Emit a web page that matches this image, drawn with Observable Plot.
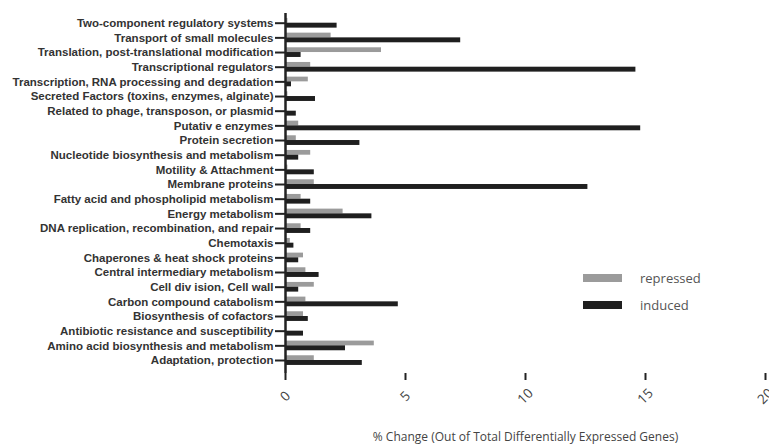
<!DOCTYPE html>
<html><head><meta charset="utf-8">
<script src="https://cdn.jsdelivr.net/npm/d3@7"></script>
<script src="https://cdn.jsdelivr.net/npm/@observablehq/plot@0.6"></script>
<style>
body{margin:0;background:#fff;}
#wrap{position:relative;width:769px;height:444px;}
.lg{position:absolute;font-family:"Open Sans",sans-serif;font-size:13px;color:#555;line-height:16px;}
.sw{position:absolute;width:39px;height:8px;}
</style></head><body><div id="wrap"></div>
<script>
const categories = [
  "Two-component regulatory systems",
  "Transport of small molecules",
  "Translation, post-translational modification",
  "Transcriptional regulators",
  "Transcription, RNA processing and degradation",
  "Secreted Factors (toxins, enzymes, alginate)",
  "Related to phage, transposon, or plasmid",
  "Putativ e enzymes",
  "Protein secretion",
  "Nucleotide biosynthesis and metabolism",
  "Motility & Attachment",
  "Membrane proteins",
  "Fatty acid and phospholipid metabolism",
  "Energy metabolism",
  "DNA replication, recombination, and repair",
  "Chemotaxis",
  "Chaperones & heat shock proteins",
  "Central intermediary metabolism",
  "Cell div ision, Cell wall",
  "Carbon compound catabolism",
  "Biosynthesis of cofactors",
  "Antibiotic resistance and susceptibility",
  "Amino acid biosynthesis and metabolism",
  "Adaptation, protection"
];
const repressed = [0.1,1.9,4.0,1.05,0.95,0.1,0,0.55,0.45,1.05,0.1,1.2,0.65,2.4,0.65,0.2,0.75,0.85,1.2,0.85,0.75,0,3.7,1.2];
const induced   = [2.15,7.3,0.65,14.6,0.25,1.25,0.45,14.8,3.1,0.55,1.2,12.6,1.05,3.6,1.05,0.35,0.55,1.4,0.55,4.7,0.95,0.75,2.5,3.2];
const xTicks = [0,5,10,15,20];
const seriesNames = ["repressed","induced"];
const seriesColors = ["#9b9b9b","#1f1f1f"];

const rows = categories.map((c,i)=>({category:c, repressed:repressed[i], induced:induced[i]}));

const first = 22.7, last = 360;
const step = (last-first)/(categories.length-1);
const half = step/2;

const chart = Plot.plot({
  width: 769, height: 444,
  marginLeft: 285, marginRight: 4, marginTop: 13, marginBottom: 71,
  style: {background:"#fff", overflow:"visible"},
  x: {domain:[0,20]},
  y: {domain: categories, range:[first-half, last+half], padding:0, round:false},
  marks: [
    Plot.barX(rows, {y:"category", x:"repressed", fill: seriesColors[0], insetTop: 2.6, insetBottom: half}),
    Plot.barX(rows, {y:"category", x:"induced", fill: seriesColors[1], insetTop: half, insetBottom: 2.4}),
    Plot.axisY({tickSize:10, tickPadding:2, strokeWidth:2, stroke:"#222", fill:"#333",
      fontFamily:"Liberation Sans, Arial, sans-serif", fontWeight:"bold", fontSize:11.5, label:null}),
    Plot.ruleX([0], {stroke:"#222", strokeWidth:2.5}),
    Plot.axisX({ticks:xTicks, tickSize:7, strokeWidth:2, stroke:"#222", line:true,
      tickFormat: () => "",
      fontFamily:"Open Sans, sans-serif", fontSize:12, fill:"#444",
      label:"% Change (Out of Total Differentially Expressed Genes)", labelAnchor:"center", labelArrow:"none", labelOffset:67}),
    Plot.text(xTicks, {x: d => d, frameAnchor:"bottom", rotate:-45, dy:23,
      fontFamily:"Open Sans, sans-serif", fontSize:13.5, fill:"#444", textAnchor:"middle", lineAnchor:"middle"})
  ]
});
const wrap = document.getElementById("wrap");
wrap.appendChild(chart);
// legend overlay
const lg = [[274,seriesNames[0],seriesColors[0]],[301,seriesNames[1],seriesColors[1]]];
for (const [top,name,col] of lg) {
  const s = document.createElement("div"); s.className="sw";
  s.style.left="583px"; s.style.top=top+"px"; s.style.background=col; wrap.appendChild(s);
  const t = document.createElement("div"); t.className="lg";
  t.style.left="640px"; t.style.top=(top-4)+"px"; t.textContent=name; wrap.appendChild(t);
}
</script></body></html>
